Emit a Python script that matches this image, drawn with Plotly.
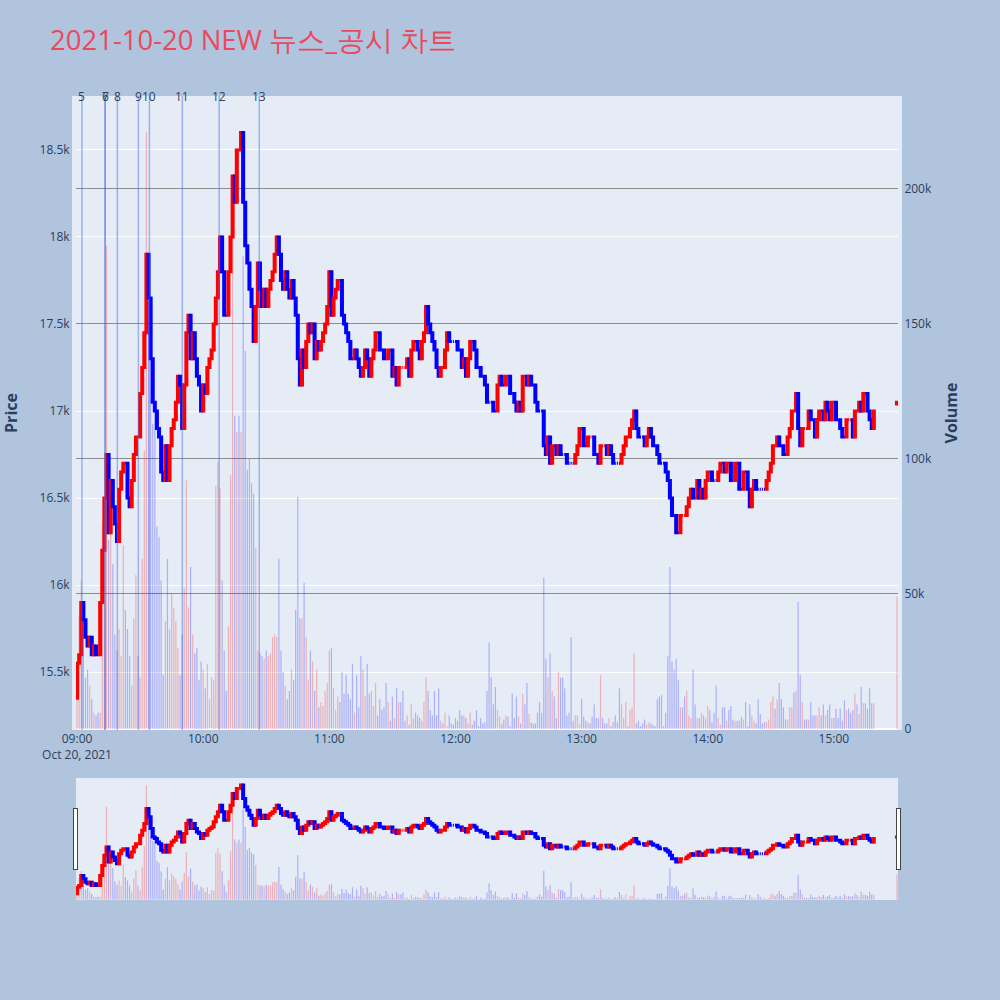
import pandas as pd
import plotly.graph_objects as go
from plotly.subplots import make_subplots

TITLE = "2021-10-20 NEW 뉴스_공시 차트"
DAY = "2021-10-20"
FIRST_OPEN = 15350

# 1-minute closes, 09:00 ~ 15:19
CLOSE = [
    15550, 15600, 15900, 15800, 15700, 15650, 15700, 15600, 15650, 15600,
    15600, 15900, 16200, 16500, 16750, 16300, 16600, 16450, 16350, 16250,
    16550, 16650, 16700, 16700, 16500, 16450, 16600, 16750, 16850, 16850,
    17100, 17250, 17450, 17900, 17650, 17300, 17050, 17000, 16900, 16850,
    16650, 16600, 16800, 16600, 16800, 16900, 16950, 17050, 17200, 17150,
    16900, 17150, 17450, 17550, 17300, 17450, 17300, 17200, 17150, 17000,
    17150, 17100, 17250, 17300, 17350, 17500, 17650, 17800, 18000, 17800,
    17550, 17550, 17800, 18000, 18350, 18200, 18500, 18500, 18600, 18200,
    17950, 17850, 17700, 17600, 17400, 17600, 17850, 17700, 17600, 17700,
    17600, 17700, 17750, 17800, 17900, 18000, 17900, 17750, 17700, 17800,
    17700, 17650, 17750, 17650, 17550, 17300, 17150, 17350, 17250, 17400,
    17500, 17450, 17500, 17300, 17400, 17350, 17400, 17450, 17500, 17600,
    17800, 17550, 17650, 17700, 17750, 17750, 17550, 17500, 17450, 17400,
    17300, 17300, 17350, 17300, 17250, 17200, 17250, 17350, 17300, 17200,
    17300, 17350, 17450, 17450, 17350, 17350, 17300, 17300, 17350, 17350,
    17200, 17250, 17150, 17250, 17250, 17250, 17250, 17300, 17200, 17350,
    17400, 17400, 17350, 17300, 17400, 17450, 17600, 17500, 17450, 17400,
    17350, 17250, 17200, 17250, 17250, 17350, 17450, 17400, 17400, 17400,
    17400, 17350, 17350, 17250, 17300, 17200, 17300, 17400, 17400, 17350,
    17250, 17250, 17200, 17200, 17150, 17050, 17050, 17050, 17000, 17000,
    17150, 17200, 17150, 17150, 17200, 17200, 17100, 17100, 17050, 17000,
    17050, 17000, 17200, 17200, 17150, 17200, 17150, 17150, 17050, 17000,
    17000, 17000, 16800, 16750, 16850, 16700, 16800, 16800, 16750, 16800,
    16750, 16750, 16750, 16700, 16700, 16700, 16700, 16750, 16800, 16900,
    16900, 16800, 16800, 16850, 16850, 16850, 16750, 16750, 16700, 16800,
    16800, 16800, 16750, 16800, 16750, 16700, 16700, 16700, 16700, 16750,
    16800, 16850, 16850, 16900, 16950, 17000, 16900, 16850, 16850, 16850,
    16800, 16850, 16900, 16850, 16800, 16800, 16750, 16700, 16700, 16700,
    16650, 16600, 16500, 16400, 16400, 16300, 16300, 16400, 16400, 16400,
    16450, 16500, 16550, 16500, 16500, 16600, 16500, 16550, 16500, 16600,
    16650, 16650, 16600, 16600, 16600, 16650, 16700, 16700, 16650, 16700,
    16700, 16600, 16600, 16700, 16700, 16550, 16550, 16650, 16650, 16550,
    16450, 16550, 16600, 16550, 16550, 16550, 16550, 16550, 16600, 16650,
    16700, 16800, 16800, 16850, 16800, 16800, 16750, 16750, 16850, 16900,
    17000, 17000, 17100, 16900, 16800, 16900, 16900, 16900, 17000, 16950,
    16950, 16850, 16950, 17000, 17000, 16950, 17050, 17000, 16950, 17050,
    17050, 16950, 16950, 16900, 16850, 16850, 16950, 16950, 16950, 16850,
    17000, 17000, 17050, 17000, 17100, 17100, 17000, 16950, 16900, 17000,
]

# 1-minute volume in thousands, 09:00 ~ 15:19
VOLUME_K = [
    25, 42, 55, 40, 19, 22, 16, 11, 6, 5,
    6, 6, 77, 86, 179, 70, 77, 61, 35, 29,
    37, 27, 68, 44, 37, 27, 16, 41, 57, 27,
    19, 63, 103, 221, 158, 140, 113, 118, 75, 71,
    55, 20, 40, 63, 37, 50, 45, 40, 30, 20,
    35, 52, 92, 45, 60, 35, 28, 30, 18, 25,
    22, 15, 24, 11, 19, 18, 90, 99, 89, 55,
    29, 14, 38, 94, 205, 116, 110, 116, 110, 175,
    140, 96, 100, 91, 87, 67, 29, 28, 27, 26,
    29, 27, 28, 34, 35, 34, 63, 29, 21, 16,
    11, 14, 22, 18, 44, 86, 41, 41, 54, 34,
    18, 29, 25, 14, 22, 8,
    10, 8.5, 14, 17, 29, 30, 15, 7, 12, 10,
    21, 13, 20, 13, 11, 24, 6, 20, 8, 27,
    22, 12, 24, 13, 14, 8.5, 17, 5, 11, 7,
    8, 17, 10, 3, 12, 4, 15, 10, 10, 14,
    3, 5, 1.5, 9, 4, 6, 5, 4, 3, 10,
    19, 14, 7, 5, 14, 5, 15, 3, 2, 6,
    1, 5, 2, 1.5, 4, 3, 7, 5, 5, 4,
    2, 6, 1.5, 3, 7, 1, 4, 2, 2.5, 14,
    32, 19, 9, 15.5, 7, 4.5, 2, 3.5, 5, 4.5,
    1, 13, 4, 12, 4.5, 2, 13, 9, 17, 5.5,
    2.5, 2, 2, 6, 10, 6, 56, 26, 19, 28,
    14, 12, 4, 21, 19, 19, 15, 5, 6, 34,
    3, 5, 5, 2, 11, 4.5, 3, 2.5, 2, 4.5,
    9, 4, 4, 20, 4, 2,
    2, 4, 1, 2.5, 5, 2.5, 15, 9, 4, 10,
    1, 7, 8, 28, 2, 3, 1, 2, 3.5, 1.5,
    2.5, 2, 1.5, 1, 11, 12, 12.5, 1, 6, 27,
    60, 25, 22, 26, 18, 8, 8, 12, 14, 5,
    4, 22, 9, 4, 4, 6, 5, 4, 8.5, 7,
    2.5, 6, 16, 4, 1.5, 8, 8, 3, 7, 8.5,
    3.5, 3, 3, 3, 4.5, 3.5, 10, 1, 9, 5,
    3, 2, 11, 5.5, 2, 2.5, 2.5, 3.5, 10, 12,
    7.5, 11, 17, 11, 8, 3.5, 3.5, 8, 8, 13.5,
    14, 47, 20, 10, 3.5, 3.5, 3.5, 10, 5, 5,
    5, 8, 5, 9, 5, 7, 9, 4, 4, 7.5,
    4, 7.5, 3, 10.5, 7, 7.5, 6, 7, 13, 9,
    5.5, 15.5, 9.5, 9.5, 7.5, 15, 9.5, 9.5,
]

# closing auction
AUCTION_TIME = "15:30"
AUCTION_OPEN = 17040
AUCTION_CLOSE = 17050
AUCTION_VOLUME_K = 49

NEWS_NO = ["5", "7", "6", "8", "9", "10", "11", "12", "13"]
NEWS_TIME = ["09:02:20", "09:13:20", "09:13:20", "09:19:10", "09:29:10",
             "09:34:25", "09:50:05", "10:07:35", "10:26:40"]

times = list(pd.date_range(f"{DAY} 09:00", periods=len(CLOSE), freq="min"))
times.append(pd.Timestamp(f"{DAY} {AUCTION_TIME}"))
closes = CLOSE + [AUCTION_CLOSE]
opens = [FIRST_OPEN] + CLOSE[:-1] + [AUCTION_OPEN]
highs = [max(o, c) for o, c in zip(opens, closes)]
lows = [min(o, c) for o, c in zip(opens, closes)]
vols = [v * 1000 for v in VOLUME_K + [AUCTION_VOLUME_K]]
bar_colors = ["rgba(255,0,0,0.25)" if c > o else "rgba(0,0,255,0.25)" for o, c in zip(opens, closes)]

fig = make_subplots(specs=[[{"secondary_y": True}]])
fig.add_trace(go.Candlestick(
    x=times, open=opens, high=highs, low=lows, close=closes,
    increasing=dict(line=dict(color="red", width=3), fillcolor="red"),
    decreasing=dict(line=dict(color="blue", width=3), fillcolor="blue"),
    name="price", showlegend=False,
), secondary_y=False)
fig.add_trace(go.Bar(
    x=times, y=vols, marker_color=bar_colors, marker_line_width=0,
    width=35000, name="volume", showlegend=False,
), secondary_y=True)

for no, t in zip(NEWS_NO, NEWS_TIME):
    ts = f"{DAY} {t}"
    fig.add_shape(type="line", x0=ts, x1=ts, xref="x", y0=0, y1=1, yref="paper",
                  line=dict(color="rgba(65,105,225,0.45)", width=1.5))
    fig.add_annotation(x=ts, y=1, yref="paper", text=no, showarrow=False,
                       yanchor="middle", font=dict(size=12, color="#2a3f5f"))

xr = [f"{DAY} 08:59:30", f"{DAY} 15:30:30"]
fig.update_layout(
    title=dict(text=TITLE, x=0.05, y=0.96, yanchor="middle",
               font=dict(size=27.5, color="#ea4a5c")),
    paper_bgcolor="lightsteelblue",
    plot_bgcolor="#e5ecf6",
    width=1000, height=1000,
    margin=dict(l=76, r=102, t=96, b=270, autoexpand=False),
    showlegend=False,
    xaxis=dict(domain=[0, 1], range=xr,
               rangeslider=dict(visible=True, range=xr, bgcolor="#e5ecf6", thickness=0.192)),
)
fig.update_yaxes(title=dict(text="Price", font=dict(size=16, weight="bold"), standoff=27),
                 range=[15167, 18810], showline=True, linecolor="#e5ecf6", linewidth=4,
                 secondary_y=False)
fig.update_yaxes(title=dict(text="Volume", font=dict(size=16, weight="bold"), standoff=16),
                 range=[-400, 234400], gridcolor="#8c8c8c", showline=True,
                 linecolor="#e5ecf6", linewidth=4, secondary_y=True)

fig.write_html("out.html", config={"displayModeBar": False},
               post_script="document.body.style.margin='0';")
